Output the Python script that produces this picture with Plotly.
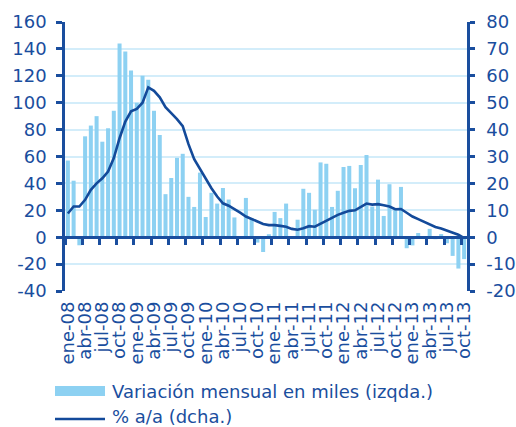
import plotly.graph_objects as go

# ---- data -------------------------------------------------------------
month_names = ["ene", "feb", "mar", "abr", "may", "jun",
               "jul", "ago", "sep", "oct", "nov", "dic"]
years = ["08", "09", "10", "11", "12", "13"]
months = [f"{m}-{y}" for y in years for m in month_names][:70]  # ene-08 .. oct-13

monthly_change = [
    57, 42, -6, 75, 83, 90, 71, 81, 94, 144, 138, 124,
    100, 120, 117, 94, 76, 32, 44, 59, 62, 30, 22.5, 48,
    15, 33, 25, 36.6, 28, 14.7, 0, 29.2, 14.1, -4, -11, 2.2,
    18.8, 14.2, 25, 0, 13, 36, 33, 20.4, 55.6, 54.6, 22.5, 34.5,
    52.2, 53, 36.4, 53.7, 61.1, 22.8, 42.8, 15.8, 39.4, 20.3, 37.4, -8.2,
    -6.1, 3.1, 0, 6.2, -1.5, 2.3, -4.5, -13.9, -23.3, -16.3,
]

yoy_pct = [
    8.8, 11.4, 11.4, 13.9, 17.6, 20, 21.9, 24.4, 29.4, 36.8, 43, 46.8,
    47.7, 50, 55.7, 54.4, 52, 48.3, 46.1, 43.9, 41.3, 34.6, 29, 25.3,
    21.9, 18.2, 15.1, 12.6, 11.7, 10.5, 9.1, 7.7, 6.7, 5.8, 4.9, 4.5,
    4.5, 4.2, 3.9, 3.1, 2.8, 3.3, 4.1, 3.9, 5.0, 6.4, 7.4, 8.3,
    9.1, 9.8, 10, 11.1, 12.5, 12.1, 12.3, 11.9, 11.4, 10.4, 10.5, 9.1,
    7.7, 6.7, 5.8, 4.9, 3.8, 3.2, 2.5, 1.7, 0.9, -0.3,
]

left_ticks = [-40, -20, 0, 20, 40, 60, 80, 100, 120, 140, 160]
left_labels = ["-40", "-20", "0", "20", "40", "60", "80", "100", "120", "140", "160"]
right_ticks = [-20, -10, 0, 10, 20, 30, 40, 50, 60, 70, 80]
right_labels = ["-20", "-10", "0", "10", "20", "30", "40", "50", "60", "70", "80"]

bar_name = "Variación mensual en miles (izqda.)"
line_name = "% a/a (dcha.)"

# ---- style ------------------------------------------------------------
DARK = "#1A4E9E"
LINE = "#134A9A"
BAR = "#8DD1F2"
GRID = "#D3EDFA"
FONT = "DejaVu Sans"
FS = 18

W, H = 516, 427
ML, MT, PW, PH = 65, 22, 402, 269
MR = W - ML - PW
MB = H - MT - PH

fig = go.Figure()
fig.add_trace(go.Bar(x=months, y=monthly_change, name=bar_name,
                     marker=dict(color=BAR, line=dict(width=0)),
                     xaxis="x", yaxis="y"))
fig.add_trace(go.Scatter(x=months, y=yoy_pct, name=line_name, mode="lines",
                         line=dict(color=LINE, width=2.6),
                         xaxis="x2", yaxis="y2"))

cat_common = dict(type="category", categoryorder="array", categoryarray=months,
                  range=[-0.5, len(months) - 0.5])

fig.update_layout(
    width=W, height=H,
    margin=dict(l=ML, r=MR, t=MT, b=MB, pad=0),
    paper_bgcolor="white", plot_bgcolor="white",
    font=dict(family=FONT, size=FS, color=DARK),
    showlegend=False,
    bargap=0.3,
    xaxis=dict(**cat_common, tickmode="linear", tick0=0, dtick=3,
               tickangle=-90, showline=False, ticks="", showgrid=False,
               zeroline=False, automargin=False, ticklabelstandoff=6,
               tickfont=dict(family=FONT, size=FS, color=DARK)),
    xaxis2=dict(**cat_common, overlaying="x", anchor="free", position=0.2,
                tickmode="linear", tick0=0, dtick=3, tickson="boundaries",
                showticklabels=False, ticks="outside", ticklen=6, tickwidth=2.5,
                tickcolor=DARK, showline=True, linecolor=DARK, linewidth=2.8,
                showgrid=False, zeroline=False, automargin=False),
    yaxis=dict(range=[-40, 160], tickmode="array", tickvals=left_ticks,
               ticktext=left_labels,
               showgrid=True, gridcolor=GRID, gridwidth=1.5,
               zeroline=False, showline=True, linecolor=DARK, linewidth=2.5,
               ticks="outside", ticklen=6, tickwidth=2.5, tickcolor=DARK,
               ticklabelstandoff=6, automargin=False,
               tickfont=dict(family=FONT, size=FS, color=DARK)),
    yaxis2=dict(range=[-20, 80], tickmode="array", tickvals=right_ticks,
                ticktext=right_labels,
                overlaying="y", side="right", anchor="x",
                showgrid=False, zeroline=False, showline=True,
                linecolor=DARK, linewidth=2.5,
                ticks="outside", ticklen=5, tickwidth=2.5, tickcolor=DARK,
                ticklabelstandoff=8, automargin=False,
                tickfont=dict(family=FONT, size=FS, color=DARK)),
)


# ---- manual legend (below plot); positions given in page pixels --------
def px(x):
    return (x - ML) / PW


def py(y):
    return (MT + PH - y) / PH


fig.add_shape(type="rect", xref="paper", yref="paper",
              x0=px(55), x1=px(105), y0=py(396), y1=py(386),
              fillcolor=BAR, line=dict(width=0))
fig.add_shape(type="line", xref="paper", yref="paper",
              x0=px(55), x1=px(105), y0=py(419), y1=py(419),
              line=dict(color=LINE, width=2.6))
fig.add_annotation(xref="paper", yref="paper", x=px(110), y=py(391.5),
                   text=bar_name, showarrow=False, xanchor="left", yanchor="middle",
                   font=dict(family=FONT, size=FS, color=DARK))
fig.add_annotation(xref="paper", yref="paper", x=px(110), y=py(416),
                   text=line_name, showarrow=False, xanchor="left", yanchor="middle",
                   font=dict(family=FONT, size=FS, color=DARK))

# remove the browser's default 8px page margin so the figure fills the window
fig.write_html(
    "out.html",
    config={"displayModeBar": False},
    post_script="document.body.style.margin='0';document.body.style.overflow='hidden';",
)
